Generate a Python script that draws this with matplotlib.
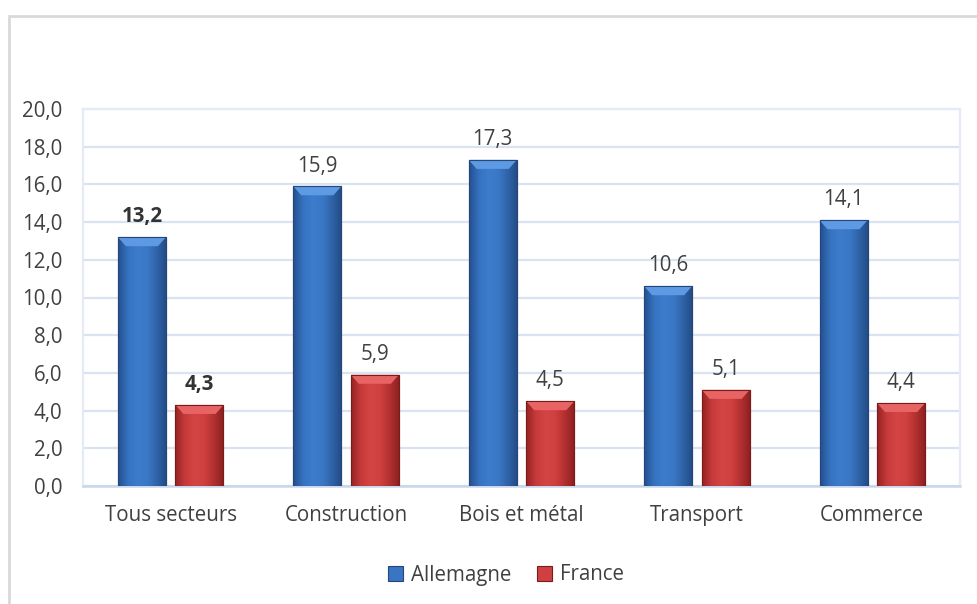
import numpy as np
import matplotlib.pyplot as plt
from matplotlib.colors import LinearSegmentedColormap
from matplotlib.patches import Polygon, Rectangle

categories = ["Tous secteurs", "Construction", "Bois et métal", "Transport", "Commerce"]
allemagne = [13.2, 15.9, 17.3, 10.6, 14.1]
france = [4.3, 5.9, 4.5, 5.1, 4.4]
bold_labels = [True, False, False, False, False]
series_names = ["Allemagne", "France"]
yticks = np.arange(0, 21, 2)

plt.rcParams['font.family'] = ['Open Sans', 'DejaVu Sans']
text_col = "#404040"
fs = 14.8

# bar shading: dark edges, brighter body, light top bevel
blue_cmap = LinearSegmentedColormap.from_list(
    "blue_bar", ["#24508f", "#3672bf", "#3d7ccc", "#3a78c7", "#2f63a8", "#234b85"])
red_cmap = LinearSegmentedColormap.from_list(
    "red_bar", ["#962424", "#c73a3a", "#d34545", "#cf4040", "#b43030", "#8a2020"])
bevel_cols = ["#5d9ae3", "#e86464"]
edge_cols = ["#24467a", "#7a1c1c"]
base_cols = ["#3a75c4", "#d04040"]

fig = plt.figure(figsize=(9.77, 6.04), dpi=100)
W, H = 977, 604
ax = fig.add_axes([83 / W, 1 - 486 / H, (960 - 83) / W, (486 - 109) / H])

# chart frame
fig.patches.append(Rectangle((9 / W, -0.05), 1.1, 1 - 16 / H + 0.05,
                             transform=fig.transFigure, fill=False,
                             edgecolor="#d9d9d9", linewidth=2, zorder=0))

x = np.arange(len(categories))
width = 0.274
offset = 0.164
grad = np.linspace(0, 1, 64).reshape(1, -1)
px_per_unit_y = (486 - 109) / 20.0
px_per_unit_x = (960 - 83) / 5.0
bevel_h = 9 / px_per_unit_y
bevel_w = 8 / px_per_unit_x

for si, (vals, cmap) in enumerate([(allemagne, blue_cmap), (france, red_cmap)]):
    xs = x + (-offset if si == 0 else offset)
    bars = ax.bar(xs, vals, width, color=base_cols[si], edgecolor=edge_cols[si],
                  linewidth=0.8, zorder=2)
    for b, v in zip(bars, vals):
        x0, x1 = b.get_x(), b.get_x() + b.get_width()
        im = ax.imshow(grad, extent=[x0, x1, 0, v], aspect='auto', cmap=cmap,
                       zorder=3, interpolation='bicubic')
        im.set_clip_path(b)
        ax.add_patch(Polygon([(x0, v), (x1, v), (x1 - bevel_w, v - bevel_h),
                              (x0 + bevel_w, v - bevel_h)],
                             closed=True, facecolor=bevel_cols[si],
                             edgecolor="none", zorder=4))
        ax.add_patch(Rectangle((x0, 0), x1 - x0, v, fill=False,
                               edgecolor=edge_cols[si], linewidth=0.8, zorder=5))
    for xi, v, bold in zip(xs, vals, bold_labels):
        ax.annotate(f"{v:.1f}".replace(".", ","), (xi, v), xytext=(0, 7),
                    textcoords='offset points', ha='center', va='bottom',
                    fontsize=fs, color="#333333" if bold else text_col,
                    fontweight='bold' if bold else 'normal')

ax.set_xlim(-0.5, 4.5)
ax.set_ylim(0, 20)
ax.set_yticks(yticks)
ax.set_yticklabels([f"{t:.1f}".replace(".", ",") for t in yticks])
ax.set_xticks(x)
ax.set_xticklabels(categories)
ax.tick_params(axis='both', length=0, labelsize=fs, labelcolor=text_col)
ax.tick_params(axis='y', pad=15)
ax.tick_params(axis='x', pad=14)
ax.grid(axis='y', color="#d9e3f2", linewidth=1.6, zorder=0)
ax.set_axisbelow(True)
for side in ["left", "right", "top"]:
    ax.spines[side].set_color("#e4ebf6")
    ax.spines[side].set_linewidth(1.6)
ax.spines["bottom"].set_color("#c9d6eb")
ax.spines["bottom"].set_linewidth(1.8)

handles = [Rectangle((0, 0), 1, 1, facecolor=base_cols[i], edgecolor=edge_cols[i],
                     linewidth=0.8) for i in range(2)]
fig.legend(handles, series_names, loc='center', bbox_to_anchor=(506 / W, 1 - 575 / H),
           ncol=2, frameon=False, fontsize=fs, labelcolor=text_col,
           handlelength=0.75, handleheight=0.75, handletextpad=0.4, columnspacing=1.2)

fig.savefig("out.png", dpi=100)
